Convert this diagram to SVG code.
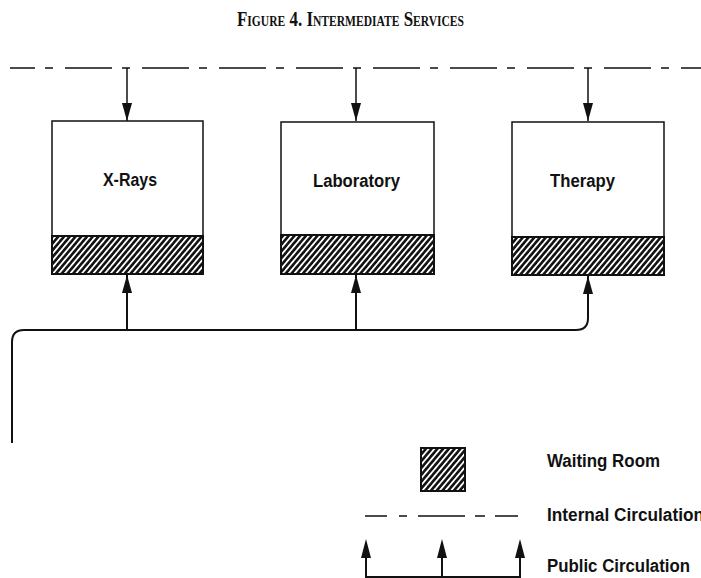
<svg xmlns="http://www.w3.org/2000/svg" width="701" height="578" viewBox="0 0 701 578">
  <style>
    .title { font-family: "Liberation Serif", "Times New Roman", serif; font-weight: bold; font-size: 22px; font-variant: small-caps; fill: #111; }
    .label { font-family: "Liberation Sans", Arial, sans-serif; font-weight: bold; font-size: 18px; fill: #111; }
    .legend { font-family: "Liberation Sans", Arial, sans-serif; font-weight: bold; font-size: 18px; fill: #111; }
    .room { fill: #fff; stroke: #111; stroke-width: 1.5; }
    .wait { fill: url(#hatch); stroke: #111; stroke-width: 2; }
    .internal { fill: none; stroke: #111; stroke-width: 1.6; }
    .public { fill: none; stroke: #111; stroke-width: 2; }
    .feed { fill: none; stroke: #111; stroke-width: 1.5; }
  </style>
  <defs>
    <pattern id="hatch" patternUnits="userSpaceOnUse" width="4.4" height="10" patternTransform="rotate(40)">
      <rect width="4.4" height="10" fill="#111"/>
      <rect width="1.8" height="10" fill="#fff"/>
    </pattern>
    <marker id="arrow" viewBox="0 0 18 10" refX="18" refY="5" markerWidth="18" markerHeight="10" markerUnits="userSpaceOnUse" orient="auto">
      <path d="M0,0 L18,5 L0,10 Z" fill="#111"/>
    </marker>
  </defs>

  <text class="title" x="237" y="26" textLength="227" lengthAdjust="spacingAndGlyphs">Figure 4. Intermediate Services</text>

  <!-- circulation routes -->
  <g id="connectors">
    <line class="internal" x1="10" y1="68" x2="701" y2="68" stroke-dasharray="47 10 8 12" stroke-dashoffset="22"/>
    <line class="feed" x1="127" y1="68" x2="127" y2="121" marker-end="url(#arrow)"/>
    <line class="feed" x1="356" y1="68" x2="356" y2="121" marker-end="url(#arrow)"/>
    <line class="feed" x1="588" y1="68" x2="588" y2="121" marker-end="url(#arrow)"/>

    <path class="public" d="M12,443 V342 Q12,330 24,330 H576 Q588,330 588,318 V276" marker-end="url(#arrow)"/>
    <line class="public" x1="127" y1="330" x2="127" y2="275" marker-end="url(#arrow)"/>
    <line class="public" x1="356" y1="330" x2="356" y2="275" marker-end="url(#arrow)"/>
  </g>

  <g id="xrays">
    <rect class="room" x="52" y="121" width="151" height="115"/>
    <rect class="wait" x="52" y="236" width="151" height="38"/>
    <text class="label" x="103" y="186" textLength="54" lengthAdjust="spacingAndGlyphs">X-Rays</text>
  </g>

  <g id="laboratory">
    <rect class="room" x="281" y="122" width="153" height="113"/>
    <rect class="wait" x="281" y="235" width="153" height="39"/>
    <text class="label" x="313" y="187" textLength="87" lengthAdjust="spacingAndGlyphs">Laboratory</text>
  </g>

  <g id="therapy">
    <rect class="room" x="512" y="122" width="152" height="115"/>
    <rect class="wait" x="512" y="237" width="152" height="38"/>
    <text class="label" x="550" y="187" textLength="65" lengthAdjust="spacingAndGlyphs">Therapy</text>
  </g>

  <!-- key -->
  <g id="legend">
    <rect class="wait" x="421" y="448" width="44" height="43"/>
    <text class="legend" x="547" y="467" textLength="113" lengthAdjust="spacingAndGlyphs">Waiting Room</text>

    <line class="internal" x1="365" y1="516" x2="518" y2="516" stroke-dasharray="22 12 8 11 47 10 10 10 23"/>
    <text class="legend" x="547" y="521" textLength="157" lengthAdjust="spacingAndGlyphs">Internal Circulation</text>

    <path class="public" d="M366,558 V577 H520 V558"/>
    <line class="public" x1="442" y1="577" x2="442" y2="558"/>
    <path d="M361,558 L366,539 L371,558 Z M437,558 L442,539 L447,558 Z M515,558 L520,539 L525,558 Z" fill="#111"/>
    <text class="legend" x="547" y="572" textLength="143" lengthAdjust="spacingAndGlyphs">Public Circulation</text>
  </g>
</svg>
